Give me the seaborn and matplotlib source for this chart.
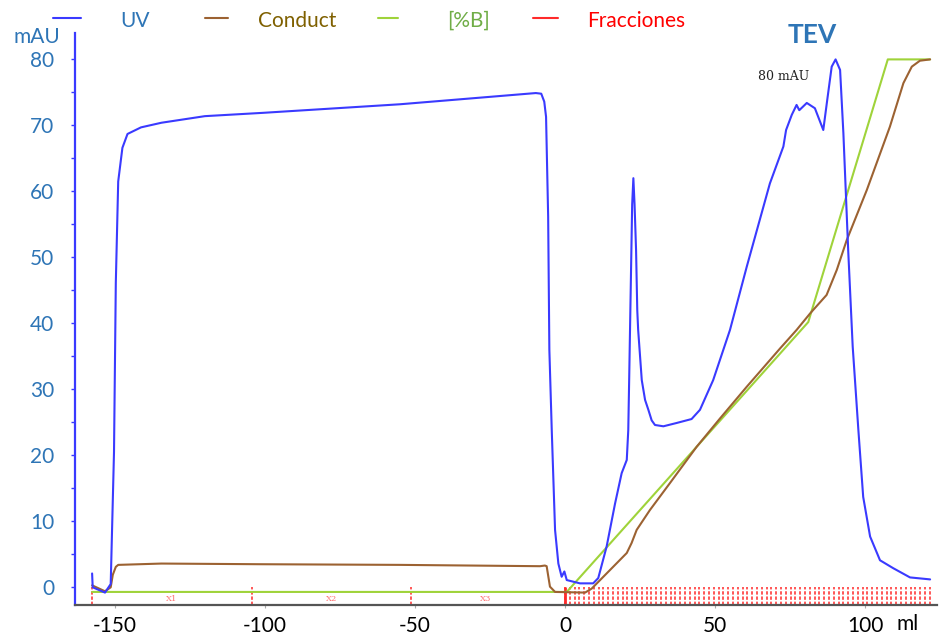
import numpy as np
import matplotlib
matplotlib.use("Agg")
import matplotlib.pyplot as plt
from matplotlib.lines import Line2D
import seaborn as sns

# UV trace (ml, mAU)
uv_ml = [-157.6, -157.4, -153.3, -151.4, -150.3, -149.7, -148.9, -147.5, -145.8, -141.3,
         -134.5, -120.0, -100.7, -55.0, -9.7, -7.9, -6.9, -6.3, -5.6, -5.2, -4.4, -3.3, -2.2,
         -1.1, -0.2, 0.6, 5.0, 9.4, 11.1, 13.9, 16.7, 18.9, 20.6, 21.1, 21.4, 22.4, 22.8,
         23.2, 23.7, 24.1, 24.4, 25.6, 26.7, 27.8, 28.9, 30.0, 32.8, 37.2, 42.2, 45.0,
         49.4, 55.0, 60.6, 68.3, 72.8, 73.7, 75.6, 77.2, 78.1, 80.6, 83.3, 86.1, 87.4,
         88.9, 90.2, 91.7, 92.8, 94.4, 95.9, 97.8, 99.4, 101.7, 105.0, 109.4, 115.0, 121.7]
uv_mau = [2.1, 0.0, -0.8, 0.5, 20.5, 46.1, 61.5, 66.6, 68.7, 69.7,
          70.4, 71.4, 71.9, 73.2, 74.9, 74.8, 73.6, 71.3, 56.2, 36.0, 23.8, 8.7, 3.6,
          1.6, 2.4, 1.1, 0.6, 0.6, 1.4, 6.2, 12.7, 17.3, 19.3, 23.8, 31.4, 58.0, 62.0,
          58.0, 51.1, 42.0, 39.0, 31.4, 28.4, 26.9, 25.3, 24.6, 24.4, 24.9, 25.5, 26.9,
          31.4, 39.0, 48.6, 61.2, 66.8, 69.3, 71.6, 73.1, 72.3, 73.4, 72.6, 69.3, 73.8,
          78.9, 80.0, 78.4, 68.8, 51.1, 36.5, 23.8, 13.7, 7.7, 4.1, 2.9, 1.5, 1.2]

# conductivity trace
cond_ml = [-157.6, -153.3, -151.4, -150.7, -149.7, -148.9, -134.5, -101.7, -55.0, -8.3,
           -6.7, -6.1, -5.0, -3.3, 6.7, 8.9, 12.8, 20.6, 22.2, 23.9, 28.3, 35.0, 43.9,
           51.7, 60.6, 71.7, 77.2, 81.7, 87.2, 90.6, 93.9, 100.6, 108.3, 112.8, 115.6,
           118.3, 121.7]
cond_val = [0.3, -0.6, 0.0, 1.9, 3.1, 3.4, 3.6, 3.5, 3.4, 3.2,
            3.3, 3.2, 0.1, -0.7, -0.8, -0.2, 1.6, 5.2, 6.7, 8.7, 11.7, 15.8, 21.3,
            25.6, 30.4, 36.2, 39.0, 41.5, 44.3, 48.1, 52.6, 60.2, 69.8, 76.4, 78.9,
            79.8, 80.0]

# %B gradient
pctb_ml = [-157.6, 0.6, 81.1, 107.6, 121.7]
pctb_val = [-0.7, -0.7, 40.2, 80.0, 80.0]

# fraction marks
frac_ml = [-157.6, -104.3, -51.3,
           0.0, 1.6, 3.2, 4.8, 6.4, 8.0, 9.6, 11.2, 12.8, 14.4, 16.0, 17.6, 19.2, 20.8,
           22.4, 24.0, 25.6, 27.2, 28.8, 30.4, 32.0, 33.6, 35.2, 36.8, 38.4, 40.0, 41.6,
           43.2, 44.8, 46.4, 48.0, 49.6, 51.2, 52.8, 54.4, 56.0, 57.6, 59.2, 60.8, 62.4,
           64.0, 65.6, 67.2, 68.8, 70.4, 72.0, 73.6, 75.2, 76.8, 78.4, 80.0, 81.6, 83.2,
           84.8, 86.4, 88.0, 89.6, 91.2, 92.8, 94.4, 96.0, 97.6, 99.2, 100.8, 102.4,
           104.0, 105.6, 107.2, 108.8, 110.4, 112.0, 113.6, 115.2, 116.8, 118.4, 120.0,
           121.6]
frac_names = ["X1", "X2", "X3"]
frac_name_ml = [-131.0, -77.7, -26.3]

x_ticks = [-150, -100, -50, 0, 50, 100]
y_ticks = [0, 10, 20, 30, 40, 50, 60, 70, 80]

legend_names = ["UV", "Conduct", "[%B]", "Fracciones"]

UV_C = "#3a3aff"
COND_C = "#9c6232"
B_C = "#9fd33a"
FR_C = "#ff2a2a"
LABEL_BLUE = "#2e75b6"

sns.set_style("white")
plt.rcParams["font.family"] = ["Lato", "DejaVu Sans"]
plt.rcParams["axes.unicode_minus"] = False

W, H = 942, 639
fig = plt.figure(figsize=(W / 100, H / 100), dpi=100)
ax = fig.add_axes([75 / W, 1 - 605 / H, (937 - 75) / W, (605 - 33) / H])

ax.vlines(frac_ml, -2.68, 0.1, colors=FR_C, linestyles=(0, (2.2, 1.2)), lw=1.1, zorder=1)
ax.vlines([0.0], -2.68, 0.1, colors=FR_C, lw=2.0, zorder=1)
for name, xm in zip(frac_names, frac_name_ml):
    ax.text(xm, -1.8, name, color="#ff7070", fontsize=6, family="DejaVu Serif",
            ha="center", va="center")

sns.lineplot(x=pctb_ml, y=pctb_val, ax=ax, color=B_C, lw=1.5, sort=False, estimator=None, zorder=2)
sns.lineplot(x=cond_ml, y=cond_val, ax=ax, color=COND_C, lw=1.5, sort=False, estimator=None, zorder=3)
sns.lineplot(x=uv_ml, y=uv_mau, ax=ax, color=UV_C, lw=1.5, sort=False, estimator=None, zorder=4)

ax.set_xlim(-163.3, 124)
ax.set_ylim(-2.68, 84.0)
ax.set_xlabel("")
ax.set_ylabel("")

for s in ["top", "right"]:
    ax.spines[s].set_visible(False)
ax.spines["left"].set_color(UV_C)
ax.spines["left"].set_linewidth(1.6)
ax.spines["bottom"].set_color("#555555")
ax.spines["bottom"].set_linewidth(1.6)

ax.set_yticks(y_ticks)
ax.set_yticks([5, 15, 25, 35, 45, 55, 65, 75], minor=True)
ax.tick_params(axis="y", which="both", left=True, length=3, width=1, color=UV_C,
               labelcolor=LABEL_BLUE, labelsize=15, pad=12)
ax.set_xticks(x_ticks)
ax.tick_params(axis="x", bottom=True, length=2, width=0.8, color="#aaaaaa",
               labelcolor="black", labelsize=15, pad=6)

fig.text(37 / W, 1 - 37 / H, "mAU", color=LABEL_BLUE, fontsize=15, ha="center", va="center")
fig.text(908 / W, 1 - 624 / H, "ml", color="black", fontsize=15, ha="center", va="center")

# legend row across the top
leg_cols = [UV_C, COND_C, B_C, FR_C]
leg_txt_cols = [LABEL_BLUE, "#7f6000", "#70ad47", "#ff0000"]
leg_dash = [(53, 81), (205, 228), (378, 398), (533, 558)]
leg_txt_x = [120, 258, 447, 587]
for name, lc, tc, (x0, x1), tx in zip(legend_names, leg_cols, leg_txt_cols, leg_dash, leg_txt_x):
    fig.add_artist(Line2D([x0 / W, x1 / W], [1 - 18 / H, 1 - 18 / H], color=lc, lw=1.5))
    fig.text(tx / W, 1 - 21 / H, name, color=tc, fontsize=15, ha="left", va="center")

fig.text(812 / W, 1 - 35 / H, "TEV", color=LABEL_BLUE, fontsize=19, fontweight="bold",
         ha="center", va="center")
fig.text(784 / W, 1 - 77 / H, "80 mAU", color="#222222", fontsize=9, family="DejaVu Serif",
         ha="center", va="center")

fig.savefig("out.png", dpi=100)
